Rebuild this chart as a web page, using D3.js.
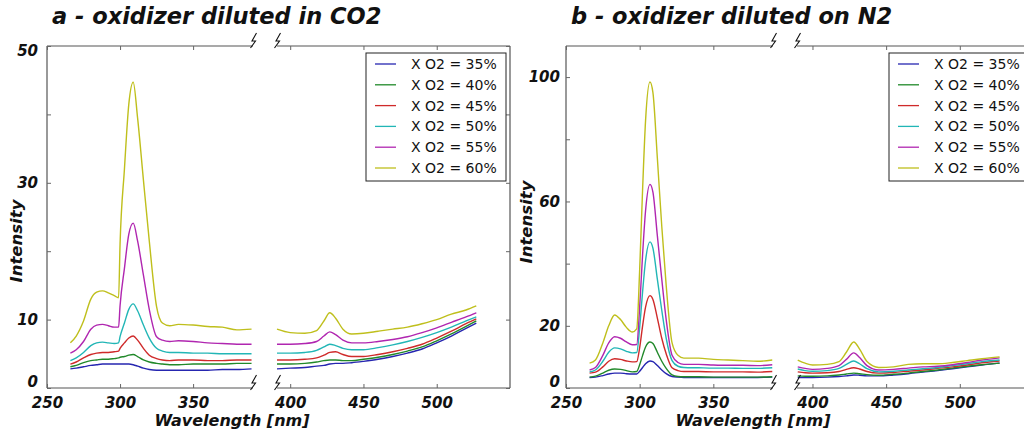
<!DOCTYPE html>
<html>
<head>
<meta charset="utf-8">
<script src="https://cdn.jsdelivr.net/npm/d3@7"></script>
<style>
  body { margin: 0; background: #fff; }
  svg text { font-family: "DejaVu Sans", sans-serif; }
</style>
</head>
<body>
<div id="chart"></div>
<script>
/** Data */

const seriesLabels = ["X O2 = 35%", "X O2 = 40%", "X O2 = 45%", "X O2 = 50%", "X O2 = 55%", "X O2 = 60%"];
const seriesColors = ["#2626b0", "#21892a", "#cf2a2a", "#22b6b6", "#b026b0", "#bfbf1c"];

// panel a, CO2 dilution
const waveCO2Short = [266, 270, 275, 280, 284, 288, 292, 296, 299, 300, 303, 306, 309, 312, 316, 320, 325, 329, 334, 340, 350, 360, 370, 380, 390];
const co2Short = [
    [2.8, 2.9, 3.1, 3.3, 3.4, 3.5, 3.5, 3.5, 3.5, 3.5, 3.5, 3.5, 3.4, 3.2, 2.9, 2.7, 2.6, 2.6, 2.6, 2.6, 2.6, 2.6, 2.7, 2.7, 2.8],
    [3.1, 3.3, 3.7, 4.0, 4.1, 4.2, 4.2, 4.3, 4.4, 4.5, 4.6, 4.8, 4.9, 4.6, 4.1, 3.8, 3.6, 3.5, 3.4, 3.4, 3.5, 3.5, 3.5, 3.6, 3.6],
    [3.5, 3.8, 4.4, 4.9, 5.1, 5.2, 5.2, 5.3, 5.4, 5.8, 6.6, 7.3, 7.6, 7.0, 5.8, 4.8, 4.3, 4.1, 4.0, 4.1, 4.1, 4.0, 4.0, 4.1, 4.1],
    [4.0, 4.4, 5.2, 6.2, 6.6, 6.7, 6.6, 6.5, 6.6, 7.5, 9.5, 11.5, 12.3, 11.3, 9.2, 7.3, 5.8, 5.4, 5.2, 5.2, 5.1, 5.1, 5.0, 5.0, 5.0],
    [5.1, 5.6, 6.8, 8.6, 9.2, 9.3, 9.1, 8.9, 8.9, 12.0, 17.5, 22.5, 24.1, 21.5, 16.5, 11.5, 7.5, 7.0, 6.8, 6.9, 6.8, 6.6, 6.5, 6.4, 6.4],
    [6.6, 7.6, 9.8, 13.0, 14.0, 14.2, 13.9, 13.5, 13.2, 21.0, 32.0, 41.5, 44.7, 39.5, 30.4, 21.5, 11.9, 9.5, 9.1, 9.3, 9.2, 9.0, 8.9, 8.5, 8.6]
];
const waveCO2Long = [391, 400, 410, 418, 423, 427, 431, 436, 442, 450, 460, 470, 480, 490, 500, 510, 520, 527];
const co2Long = [
    [2.8, 2.9, 3.0, 3.2, 3.3, 3.5, 3.6, 3.6, 3.7, 3.9, 4.2, 4.6, 5.1, 5.7, 6.6, 7.6, 8.7, 9.5],
    [3.5, 3.5, 3.6, 3.8, 4.0, 4.1, 4.1, 4.0, 4.0, 4.2, 4.5, 4.9, 5.4, 6.0, 6.9, 7.9, 9.0, 9.8],
    [4.1, 4.1, 4.2, 4.4, 4.8, 5.2, 5.3, 4.9, 4.6, 4.6, 4.9, 5.3, 5.8, 6.4, 7.3, 8.3, 9.4, 10.1],
    [5.1, 5.1, 5.2, 5.5, 6.0, 6.4, 6.2, 5.8, 5.6, 5.6, 5.9, 6.3, 6.8, 7.4, 8.1, 8.9, 9.8, 10.4],
    [6.4, 6.4, 6.5, 6.8, 7.6, 8.2, 7.8, 7.0, 6.6, 6.6, 6.8, 7.1, 7.5, 8.1, 8.8, 9.6, 10.4, 11.0],
    [8.6, 8.1, 8.0, 8.4, 9.8, 11.0, 10.2, 8.6, 7.9, 8.0, 8.3, 8.6, 8.9, 9.4, 10.0, 10.8, 11.4, 12.0]
];

// panel b, N2 dilution
const waveN2Short = [266, 270, 275, 279, 283, 287, 291, 295, 298, 300, 302, 304, 307, 309, 312, 315, 318, 322, 326, 330, 340, 350, 360, 370, 380, 390];
const n2Short = [
    [3.4, 3.5, 4.0, 4.5, 4.8, 4.8, 4.6, 4.5, 4.5, 5.4, 6.6, 7.8, 8.7, 8.5, 7.2, 5.8, 4.6, 3.7, 3.5, 3.4, 3.4, 3.4, 3.4, 3.4, 3.4, 3.5],
    [3.5, 3.8, 4.8, 5.7, 6.1, 6.0, 5.6, 5.2, 5.3, 7.5, 10.5, 13.2, 14.8, 14.3, 11.5, 8.6, 6.3, 4.2, 3.7, 3.6, 3.6, 3.5, 3.5, 3.5, 3.5, 3.6],
    [4.8, 5.1, 6.8, 8.6, 9.4, 9.2, 8.7, 8.4, 8.5, 13.0, 20.0, 26.0, 29.7, 28.5, 22.5, 16.0, 11.0, 6.5, 5.6, 5.3, 5.3, 5.2, 5.2, 5.2, 5.1, 5.3],
    [5.2, 5.8, 8.6, 11.5, 12.9, 12.6, 11.8, 11.3, 11.4, 19.5, 31.0, 41.0, 47.0, 45.0, 35.0, 25.0, 16.0, 8.8, 7.0, 6.6, 6.5, 6.4, 6.4, 6.3, 6.3, 6.5],
    [5.8, 6.6, 10.5, 14.5, 16.5, 16.0, 14.8, 13.9, 14.0, 26.0, 43.0, 57.0, 65.5, 63.0, 49.0, 35.0, 22.0, 10.5, 8.2, 7.6, 7.6, 7.4, 7.3, 7.3, 7.2, 7.5],
    [8.0, 9.0, 14.5, 20.0, 23.5, 22.0, 19.5, 18.0, 19.0, 38.0, 64.0, 86.0, 98.4, 95.0, 74.0, 52.0, 33.0, 14.5, 10.5, 9.6, 9.6, 9.2, 9.0, 8.8, 8.6, 9.0]
];
const waveN2Long = [390, 395, 400, 410, 418, 423, 428, 432, 437, 445, 455, 465, 475, 485, 495, 505, 515, 527];
const n2Long = [
    [3.4, 3.4, 3.4, 3.5, 3.7, 3.9, 4.2, 4.1, 3.9, 3.9, 4.2, 4.6, 5.1, 5.6, 6.2, 6.8, 7.4, 8.0],
    [3.9, 3.8, 3.8, 3.9, 4.2, 4.5, 4.8, 4.6, 4.3, 4.1, 4.4, 4.8, 5.3, 5.8, 6.4, 7.0, 7.5, 8.0],
    [5.2, 4.9, 4.8, 4.9, 5.3, 6.0, 6.5, 6.1, 5.3, 4.8, 5.0, 5.4, 5.8, 6.3, 6.8, 7.4, 8.1, 8.7],
    [6.1, 5.6, 5.4, 5.6, 6.3, 7.6, 8.7, 7.8, 6.2, 5.2, 5.4, 5.8, 6.2, 6.6, 7.2, 7.8, 8.5, 9.0],
    [6.8, 6.3, 6.0, 6.3, 7.2, 9.2, 11.3, 9.8, 7.2, 5.8, 6.0, 6.4, 6.8, 7.0, 7.5, 8.2, 9.0, 9.7],
    [9.0, 8.0, 7.4, 7.6, 8.5, 11.5, 14.8, 12.5, 8.5, 6.6, 6.8, 7.6, 7.8, 7.8, 8.2, 8.8, 9.4, 10.0]
];

// ticks
const xTicksShort = [250, 300, 350];
const xTicksLong = [400, 450, 500];
const yTicksCO2 = [0, 10, 20, 30, 40, 50];
const yLabelsCO2 = [0, 10, 30, 50];
const yTicksN2 = [0, 20, 40, 60, 80, 100];
const yLabelsN2 = [0, 20, 60, 100];


const width = 1024,
      height = 435;

const svg = d3.select("#chart").append("svg")
    .attr("width", width)
    .attr("height", height);

const boldItalic = sel => sel
    .attr("font-weight", "bold")
    .attr("font-style", "italic")
    .attr("fill", "#111");

function drawPanel(p) {
    const g = svg.append("g");

    // broken x axis: two scales side by side
    const xShort = d3.scaleLinear().domain(p.shortDomain).range([p.left, p.breakL]);
    const xLong = d3.scaleLinear().domain(p.longDomain).range([p.breakR, p.right]);
    const y = d3.scaleLinear().domain([0, p.yMax]).range([p.bottom, p.top]);

    const line = xs => d3.line()
        .curve(d3.curveMonotoneX)
        .x(d => xs(d[0]))
        .y(d => y(d[1]));

    // spectra
    p.shortVals.forEach((vals, i) => {
        g.append("path")
            .datum(p.shortWave.map((w, j) => [w, vals[j]]))
            .attr("fill", "none")
            .attr("stroke", seriesColors[i])
            .attr("stroke-width", 1.4)
            .attr("d", line(xShort));
    });
    p.longVals.forEach((vals, i) => {
        g.append("path")
            .datum(p.longWave.map((w, j) => [w, vals[j]]))
            .attr("fill", "none")
            .attr("stroke", seriesColors[i])
            .attr("stroke-width", 1.4)
            .attr("d", line(xLong));
    });

    // frame with the gap
    const frame = g.append("g")
        .attr("stroke", "#555")
        .attr("stroke-width", 1.2)
        .attr("fill", "none");
    [p.top, p.bottom].forEach(yy => {
        frame.append("line").attr("x1", p.left).attr("x2", p.breakL).attr("y1", yy).attr("y2", yy);
        frame.append("line").attr("x1", p.breakR).attr("x2", p.right).attr("y1", yy).attr("y2", yy);
    });
    frame.append("line").attr("x1", p.left).attr("x2", p.left).attr("y1", p.top).attr("y2", p.bottom);
    frame.append("line").attr("x1", p.right).attr("x2", p.right).attr("y1", p.top).attr("y2", p.bottom);

    // ticks point inward, like the old matplotlib look
    const styleAxis = a => {
        a.select(".domain").remove();
        a.selectAll(".tick line").attr("stroke", "#666");
    };

    [[xShort, xTicksShort], [xLong, xTicksLong]].forEach(([xs, ticks]) => {
        g.append("g")
            .attr("transform", `translate(0,${p.bottom})`)
            .call(d3.axisBottom(xs).tickValues(ticks).tickSize(-4).tickPadding(9))
            .call(styleAxis)
            .selectAll("text")
            .attr("font-size", 15)
            .call(boldItalic);
        g.append("g")
            .attr("transform", `translate(0,${p.top})`)
            .call(d3.axisTop(xs).tickValues(ticks).tickSize(-4).tickFormat(""))
            .call(styleAxis);
    });

    const yLeft = g.append("g")
        .attr("transform", `translate(${p.left},0)`)
        .call(d3.axisLeft(y).tickValues(p.yTicks).tickSize(-4).tickPadding(p.yPad)
            .tickFormat(d => p.yLabels.includes(d) ? d : ""))
        .call(styleAxis);
    yLeft.selectAll("text")
        .attr("font-size", 15)
        .call(boldItalic)
        .attr("dy", d => d === 0 ? "-0.1em" : d === 50 ? "0.6em" : "0.32em");

    g.append("g")
        .attr("transform", `translate(${p.right},0)`)
        .call(d3.axisRight(y).tickValues(p.yTicks).tickSize(-4).tickFormat(""))
        .call(styleAxis);

    // little lightning-bolt break marks
    [p.breakL, p.breakR].forEach(bx => {
        [p.top, p.bottom].forEach(by => {
            g.append("path")
                .attr("d", `M${bx + 3.5},${by - 13} L${bx - 1},${by - 5} L${bx + 2.5},${by - 5} L${bx - 2.5},${by + 2}`)
                .attr("fill", "none")
                .attr("stroke", "#111")
                .attr("stroke-width", 1.1);
        });
    });

    // titles
    g.append("text")
        .attr("x", p.left + 5)
        .attr("y", 24)
        .attr("font-size", 22.5)
        .call(boldItalic)
        .text(p.title);

    g.append("text")
        .attr("x", p.xLabelX)
        .attr("y", 426)
        .attr("text-anchor", "middle")
        .attr("font-size", 16)
        .call(boldItalic)
        .text("Wavelength [nm]");

    g.append("text")
        .attr("transform", `translate(${p.yLabelX},${p.yLabelY}) rotate(-90)`)
        .attr("text-anchor", "middle")
        .attr("font-size", 16.5)
        .call(boldItalic)
        .text("Intensity");

    // legend
    const lg = g.append("g").attr("transform", `translate(${p.legendX},53)`);
    lg.append("rect")
        .attr("width", 140)
        .attr("height", 128)
        .attr("fill", "#fff")
        .attr("stroke", "#222")
        .attr("stroke-width", 1);
    seriesLabels.forEach((lab, i) => {
        const ry = 11 + i * 20.8;
        lg.append("line")
            .attr("x1", 9).attr("x2", 30)
            .attr("y1", ry).attr("y2", ry)
            .attr("stroke", seriesColors[i])
            .attr("stroke-width", 1.3);
        lg.append("text")
            .attr("x", 45)
            .attr("y", ry + 5)
            .attr("font-size", 14)
            .attr("fill", "#111")
            .text(lab);
    });
}

drawPanel({
    title: "a - oxidizer diluted in CO2",
    left: 47, breakL: 253, breakR: 277, right: 510,
    top: 46, bottom: 388,
    shortDomain: [250, 391], longDomain: [391, 550],
    yMax: 50, yTicks: yTicksCO2, yLabels: yLabelsCO2, yPad: 9,
    shortWave: waveCO2Short, shortVals: co2Short,
    longWave: waveCO2Long, longVals: co2Long,
    xLabelX: 232, yLabelX: 22, yLabelY: 241,
    legendX: 366
});

drawPanel({
    title: "b - oxidizer diluted on N2",
    left: 566, breakL: 773, breakR: 797, right: 1032,
    top: 46, bottom: 388,
    shortDomain: [250, 390.5], longDomain: [389.5, 549],
    yMax: 110, yTicks: yTicksN2, yLabels: yLabelsN2, yPad: 6,
    shortWave: waveN2Short, shortVals: n2Short,
    longWave: waveN2Long, longVals: n2Long,
    xLabelX: 753, yLabelX: 532, yLabelY: 222,
    legendX: 889
});
</script>
</body>
</html>
